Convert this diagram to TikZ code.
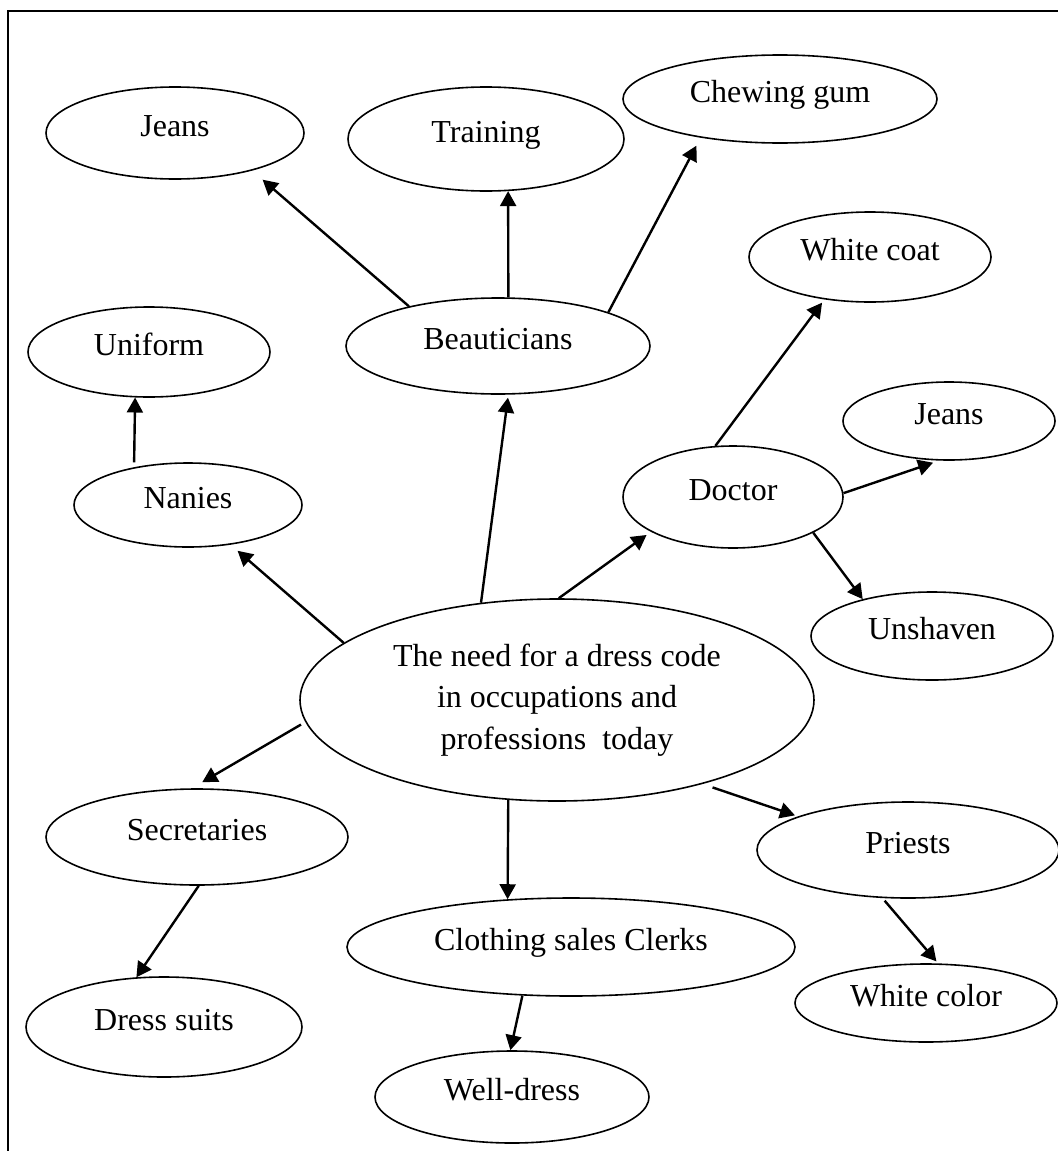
\documentclass[tikz,border=0pt]{standalone}
\usepackage{fontspec}
\setmainfont{Liberation Serif}
\usetikzlibrary{shapes.geometric,arrows.meta}

\tikzset{
  bub/.style 2 args={draw, ellipse, line width=0.8pt, inner sep=0pt,
    minimum width=#1pt, minimum height=#2pt,
    text height=0.7em, text depth=0.35em},
  arr/.style={-{Triangle[length=7.5pt,width=8pt]}, line width=1.2pt}
}

\begin{document}
\begin{tikzpicture}[x=0.5pt, y=-0.5pt, font=\fontsize{16pt}{20.75pt}\selectfont]
\clip (0,0) rectangle (1058,1151);
\draw [line width=1.1pt] (8,11) rectangle (1080,1170);
% top row
\node[bub={129}{46}] (jeansL) at (175,133) {Jeans};
\node[bub={138}{52}] (training) at (486,139) {Training};
\node[bub={157}{44}] (chewing) at (780,99) {Chewing gum};
\node[bub={121}{45}] (whitecoat) at (870,257) {White coat};
\node[bub={121}{45}] (uniform) at (149,352) {Uniform};
\node[bub={152}{48}] (beaut) at (498,346) {Beauticians};
\node[bub={106}{39}] (jeansR) at (949,421) {Jeans};
\node[bub={114}{42}] (nanies) at (188,505) {Nanies};
\node[bub={110}{51}] (doctor) at (733,497) {Doctor};
\node[bub={121}{44}] (unshaven) at (932,636) {Unshaven};
% centre
\node[draw, ellipse, line width=0.8pt, inner sep=0pt, align=center,
  minimum width=257pt, minimum height=101pt] (central) at (557,700)
  {The need for a dress code\\in occupations and\\professions~ today};
% bottom row
\node[bub={151}{48}] (secret) at (197,837) {Secretaries};
\node[bub={151}{48}] (priests) at (908,850) {Priests};
\node[bub={224}{49}] (clothing) at (571,947) {Clothing sales Clerks};
\node[bub={131}{39}] (whitecol) at (926,1003) {White color};
\node[bub={138}{50}] (dress) at (164,1027) {Dress suits};
\node[bub={137}{46}] (well) at (512,1097) {Well-dress};
% arrows
\draw[arr, shorten >=6.9pt] (beaut.156) -- (jeansL.-26);
\draw[arr] (beaut.78) -- (training.-67);
\draw[arr, shorten >=4.5pt] (beaut.17) -- (chewing.-154);
\draw[arr, shorten >=1.5pt] (central.128) -- (beaut.-78);
\draw[arr, shorten <=2.4pt] (nanies.145) -- (uniform.-107);
\draw[arr, shorten >=4.6pt] (central.165) -- (nanies.-43);
\draw[arr, shorten >=2.7pt] (central.89) -- (doctor.-157);
\draw[arr, shorten >=2pt] (doctor.109) -- (whitecoat.-137);
\draw[arr, shorten >=3.2pt] (doctor.2) -- (jeansR.-104);
\draw[arr] (doctor.-24) -- (unshaven.152);
\draw[arr, shorten <=2.5pt, shorten >=6pt] (central.185) -- (secret.96);
\draw[arr] (secret.-88) -- (dress.119);
\draw[arr] (central.-116) -- (clothing.143);
\draw[arr] (clothing.-135) -- (well.92);
\draw[arr, shorten <=5.3pt, shorten >=1.6pt] (central.-30) -- (priests.163);
\draw[arr, shorten <=1.7pt, shorten >=1.3pt] (priests.-118) -- (whitecol.73);
\end{tikzpicture}
\end{document}
